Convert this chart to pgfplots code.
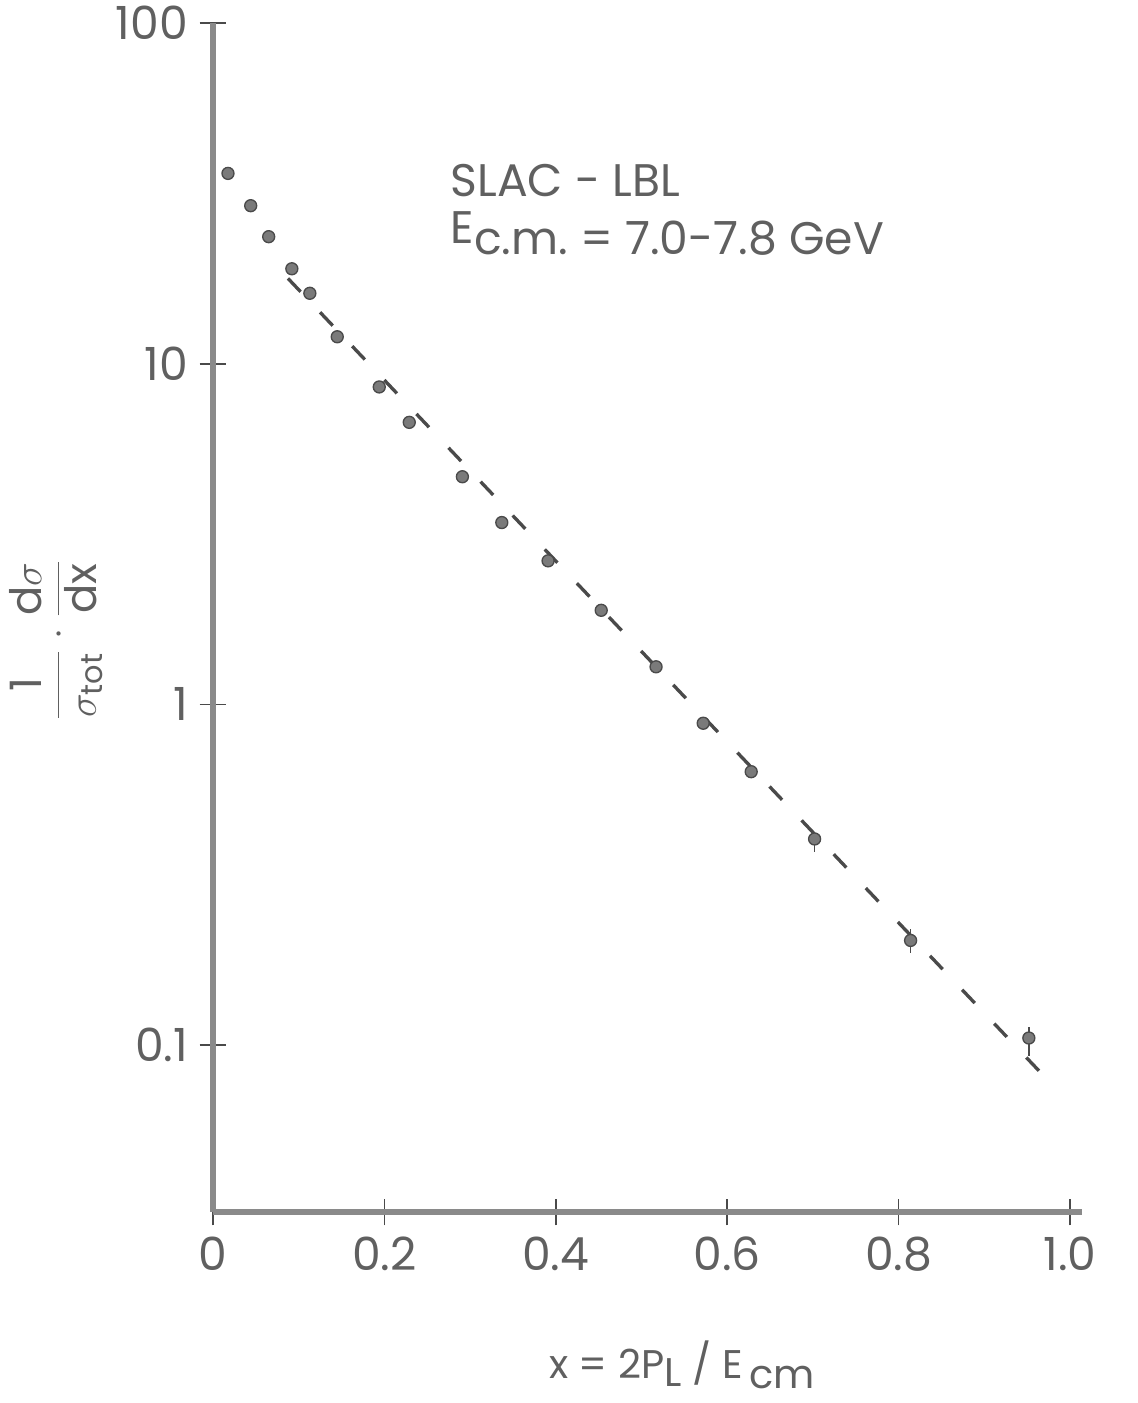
\documentclass[border=0pt]{standalone}
\usepackage{amsmath}
\usepackage{pgfplots}
\pgfplotsset{compat=1.18}
\usepackage{fontspec}
\setmainfont{Poppins}
\definecolor{axgray}{HTML}{8A8A8A}
\definecolor{txtgray}{HTML}{606060}
\definecolor{ptgray}{HTML}{7A7A7A}
\definecolor{lngray}{HTML}{4A4A4A}
\pgfplotstableread{
x      y      ep     em
0.0175 36.2   0      0
0.044  29.1   0      0
0.065  23.6   0      0
0.092  19.0   0      0
0.113  16.1   0      0
0.145  12.0   0      0
0.194  8.55   0      0
0.229  6.73   0      0
0.291  4.66   0      0
0.337  3.42   0      0
0.391  2.64   0      0
0.453  1.89   0      0
0.517  1.29   0      0
0.572  0.881  0      0
0.628  0.635  0      0
0.702  0.403  0.02   0.034
0.814  0.203  0.017  0.017
0.952  0.105  0.008  0.012
}\datatable
\begin{document}
\begin{tikzpicture}
\begin{axis}[
  at={(0,0)}, anchor=south west,
  scale only axis, width=260.7pt, height=356.7pt,
  xmin=0, xmax=1.014, ymode=log, ymin=0.0324, ymax=100,
  axis lines=left,
  axis line style={draw=axgray, line width=1.8pt, -},
  xtick={0,0.2,0.4,0.6,0.8,1.0},
  xticklabels={0,0.2,0.4,0.6,0.8,1.0},
  ytick={0.1,1,10,100},
  yticklabels={0.1,1,10,100},
  minor tick length=0pt,
  major tick length=8pt,
  tick align=center,
  tick style={draw=lngray, line width=0.5pt},
  ticklabel style={font=\fontsize{13.7}{16}\selectfont, text=txtgray},
  clip=false,
]
\addplot[lngray, line width=1pt, dash pattern=on 5.5pt off 8.5pt] coordinates {(0.0875,17.8) (0.965,0.0835)};
\addplot[only marks, mark=*, mark size=1.8pt,
  mark options={fill=ptgray, draw=lngray, line width=0.4pt},
  error bars/.cd, y dir=both, y explicit,
  error bar style={draw=lngray, line width=0.5pt}, error mark=none]
  table[x=x, y=y, y error plus=ep, y error minus=em] {\datatable};
\end{axis}
\node[anchor=base west, text=txtgray, font=\fontsize{13.7}{16}\selectfont, inner sep=0pt] at (71.1pt,304.5pt) {SLAC - LBL};
\node[anchor=base west, text=txtgray, font=\fontsize{13.7}{16}\selectfont, inner sep=0pt] at (71.1pt,287.1pt) {\raisebox{3.3pt}{E}c.m.\ = 7.0-7.8 GeV};
\node[anchor=base, text=txtgray, font=\fontsize{12}{14}\selectfont, inner sep=0pt] at (140.7pt,-49.8pt) {x = 2P\raisebox{-2.6pt}{L} / E\,\raisebox{-3pt}{cm}};
\node[rotate=90, text=txtgray, font=\fontsize{13}{15}\selectfont, inner sep=0pt] at (-47pt,171.6pt) {$\displaystyle\frac{\text{1}}{\sigma_{\text{tot}}}\cdot\frac{\text{d}\sigma}{\text{dx}}$};
\pgfresetboundingbox
\useasboundingbox (-63.9pt,-57.3pt) rectangle (277.2pt,363.6pt);
\end{tikzpicture}
\end{document}
